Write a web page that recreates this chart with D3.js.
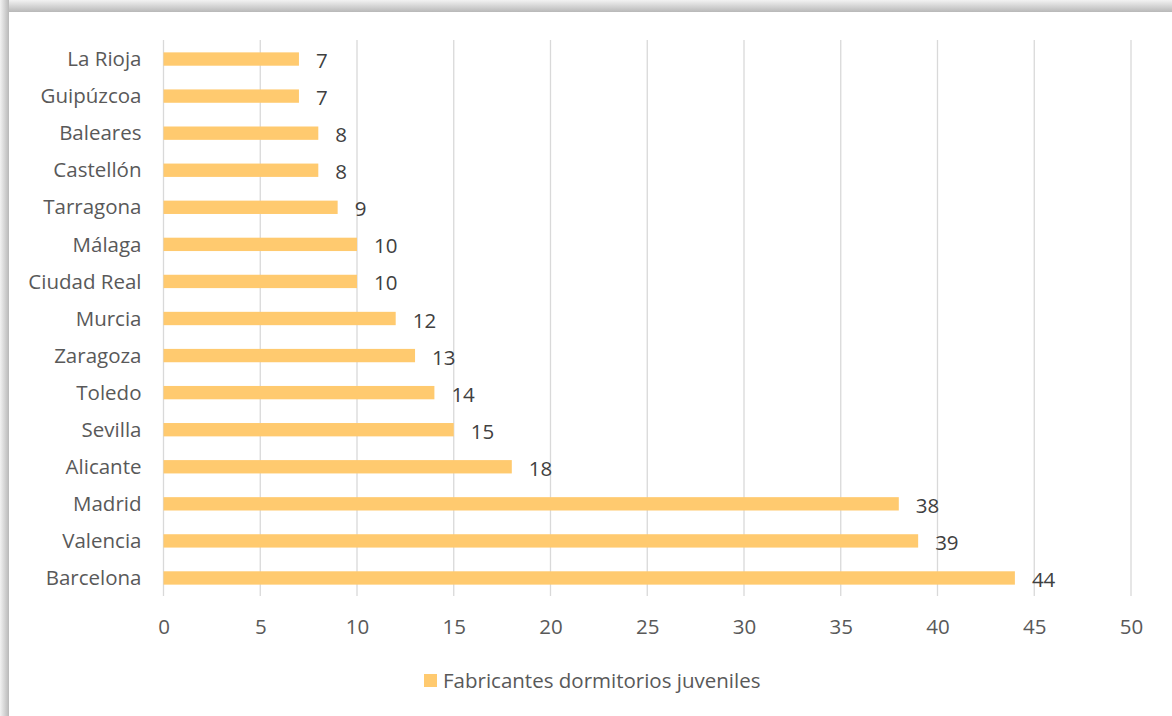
<!DOCTYPE html>
<html><head><meta charset="utf-8">
<script src="https://cdn.jsdelivr.net/npm/d3@7"></script>
<style>body{margin:0;background:#fff;} svg{display:block;font-family:"Open Sans","Noto Sans",sans-serif;}</style>
</head><body>
<svg id="c" width="1172" height="716"></svg>
<script>
const categories = ["La Rioja","Guipúzcoa","Baleares","Castellón","Tarragona","Málaga","Ciudad Real","Murcia","Zaragoza","Toledo","Sevilla","Alicante","Madrid","Valencia","Barcelona"];
const values = [7,7,8,8,9,10,10,12,13,14,15,18,38,39,44];
const ticks = [0,5,10,15,20,25,30,35,40,45,50];
const seriesName = "Fabricantes dormitorios juveniles";

const FS = 20.5;
const svg = d3.select("#c");
const defs = svg.append("defs");
const gt = defs.append("linearGradient").attr("id","gt").attr("x1",0).attr("y1",0).attr("x2",0).attr("y2",1);
gt.append("stop").attr("offset","0").attr("stop-color","#f2f2f2");
gt.append("stop").attr("offset","1").attr("stop-color","#b8b8b8");
const gl = defs.append("linearGradient").attr("id","gl").attr("x1",0).attr("y1",0).attr("x2",1).attr("y2",0);
gl.append("stop").attr("offset","0").attr("stop-color","#f2f2f2");
gl.append("stop").attr("offset","1").attr("stop-color","#b8b8b8");
svg.append("rect").attr("x",0).attr("y",0).attr("width",1172).attr("height",12).attr("fill","url(#gt)");
svg.append("rect").attr("x",0).attr("y",0).attr("width",9).attr("height",716).attr("fill","url(#gl)");
svg.append("rect").attr("x",9).attr("y",12).attr("width",1163).attr("height",704).attr("fill","#fff");

const x = d3.scaleLinear().domain([0,50]).range([163.5,1131]);
const y = d3.scaleBand().domain(categories).range([40.5,596.5]).paddingInner(0.64).paddingOuter(0.32);

const grid = svg.append("g");
grid.selectAll("line").data(ticks).join("line")
  .attr("x1",d=>x(d)).attr("x2",d=>x(d)).attr("y1",40).attr("y2",596)
  .attr("stroke","#d9d9d9").attr("stroke-width",1.3);

svg.append("g").selectAll("rect").data(values).join("rect")
  .attr("x",x(0)).attr("y",(d,i)=>y(categories[i]))
  .attr("width",d=>x(d)-x(0)).attr("height",y.bandwidth())
  .attr("fill","#FFCA6F");

svg.append("g").selectAll("text").data(values).join("text")
  .attr("x",d=>x(d)+17).attr("y",(d,i)=>y(categories[i])+y.bandwidth()/2+9)
  .attr("font-size",FS).attr("fill","#404040").text(d=>d);

const yAxis = svg.append("g").attr("transform",`translate(${x(0)},0)`)
  .call(d3.axisLeft(y).tickSize(0).tickPadding(22));
yAxis.select(".domain").remove();
yAxis.selectAll("text").attr("font-size",FS).attr("fill","#595959").attr("font-family","'Open Sans','Noto Sans',sans-serif").attr("dy","0.35em");

const xAxis = svg.append("g").attr("transform","translate(0,596)")
  .call(d3.axisBottom(x).tickValues(ticks).tickSize(0).tickPadding(23));
xAxis.select(".domain").remove();
xAxis.selectAll("text").attr("font-size",FS).attr("fill","#595959").attr("font-family","'Open Sans','Noto Sans',sans-serif");

const lg = svg.append("g").attr("transform","translate(424,674)");
lg.append("rect").attr("x",0).attr("y",0).attr("width",13).attr("height",13).attr("fill","#FFCA6F");
lg.append("text").attr("x",19).attr("y",14).attr("font-size",FS).attr("fill","#595959").text(seriesName);
</script>
</body></html>
